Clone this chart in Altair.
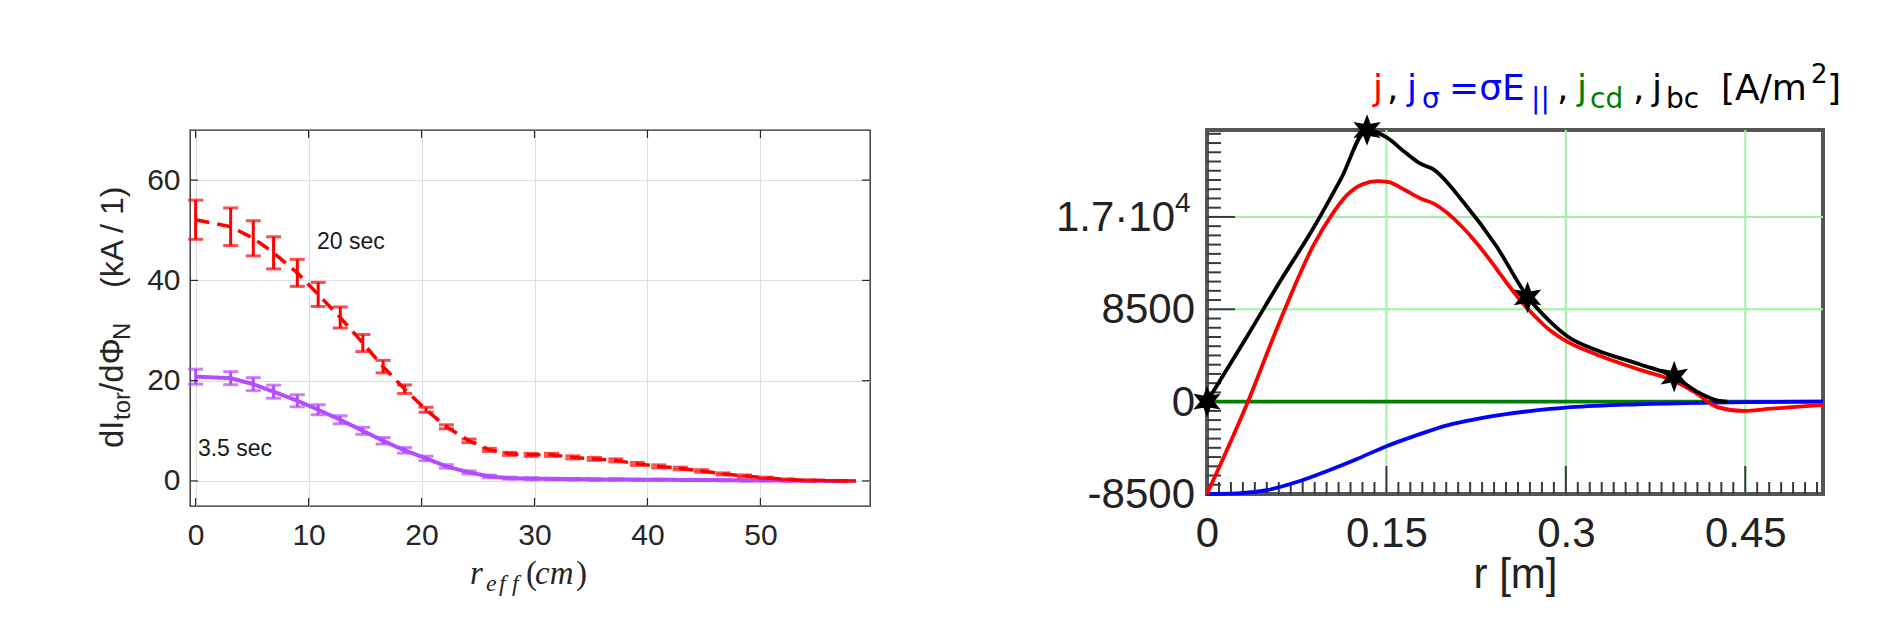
import altair as alt
import pandas as pd

# ---------------- left panel : dI_tor/dPhi_N profiles ----------------
reff = [0.0, 3.1, 5.1, 6.9, 9.0, 10.85, 12.8, 14.8, 16.6, 18.5, 20.4, 22.2, 24.2, 26.0,
        27.8, 29.7, 31.5, 33.4, 35.3, 37.2, 39.1, 41.0, 42.9, 44.8, 46.7, 48.6, 50.5,
        52.4, 54.3, 56.2, 57.8]
val_20 = [52.1, 50.7, 48.4, 45.5, 41.5, 37.2, 32.6, 27.5, 22.8, 18.3, 14.2, 10.8, 8.0, 6.2,
          5.4, 5.2, 5.2, 4.7, 4.4, 4.1, 3.4, 2.9, 2.5, 2.0, 1.4, 1.0, 0.6, 0.3, 0.1, 0.05, 0.0]
err_20 = [3.9, 3.75, 3.5, 3.2, 2.7, 2.4, 2.1, 1.7, 1.25, 0.85, 0.5, 0.4, 0.35, 0.3, 0.3, 0.3,
          0.3, 0.3, 0.3, 0.3, 0.3, 0.3, 0.25, 0.25, 0.2, 0.2, 0.15, 0.1, 0.1, 0.05, 0.05]
val_35 = [20.8, 20.5, 19.3, 17.8, 16.0, 14.2, 12.2, 10.0, 8.0, 6.1, 4.5, 2.9, 1.7, 0.9, 0.55,
          0.45, 0.4, 0.35, 0.3, 0.3, 0.25, 0.25, 0.2, 0.2, 0.15, 0.1, 0.1, 0.05, 0.05, 0.0, 0.0]
err_35 = [1.5, 1.3, 1.3, 1.3, 1.2, 1.0, 0.8, 0.7, 0.65, 0.55, 0.45, 0.35, 0.3, 0.25, 0.2, 0.2,
          0.15, 0.15, 0.15, 0.15, 0.1, 0.1, 0.1, 0.1, 0.1, 0.1, 0.1, 0.05, 0.05, 0.05, 0.05]
left_xticks = [0, 10, 20, 30, 40, 50]
left_yticks = [0, 20, 40, 60]
ann_x = [10.75, 0.2]
ann_y = [47.7, 6.4]
ann_t = ["20 sec", "3.5 sec"]

# ---------------- right panel : current density profiles ----------------
jbc_r = [0.0, 0.0335, 0.0613, 0.0891, 0.112, 0.1338, 0.1505, 0.165, 0.1784, 0.189, 0.2141,
         0.242, 0.2677, 0.2875, 0.3015, 0.3266, 0.3628, 0.3906, 0.41, 0.427, 0.435]
jbc_v = [0, 6000, 11100, 16000, 20500, 25000, 24300, 23000, 21900, 21400, 18400,
         14300, 9700, 7300, 6000, 4700, 3400, 2300, 900, 100, 0]
j_r = [0.0, 0.0335, 0.0613, 0.0891, 0.105, 0.117, 0.130, 0.1424, 0.152, 0.165, 0.1784, 0.19,
       0.2141, 0.2246, 0.2677, 0.2875, 0.3015, 0.3266, 0.3628, 0.3906, 0.4087, 0.4266, 0.449,
       0.4716, 0.495, 0.515]
j_v = [-8500, -200, 7500, 14400, 17300, 19000, 20000, 20300, 20200, 19500, 18700, 18200,
       16000, 14700, 8600, 6500, 5500, 4300, 2900, 1900, 800, -500, -850, -650, -450, -300]
js_r = [0.0, 0.025, 0.05, 0.075, 0.1, 0.125, 0.15, 0.175, 0.2, 0.225, 0.25, 0.275, 0.3,
        0.35, 0.4, 0.45, 0.515]
js_v = [-8500, -8450, -8150, -7400, -6400, -5300, -4100, -3100, -2200, -1600, -1150, -800,
        -550, -280, -130, -50, 0]
jcd_r = [0.0, 0.515]
jcd_v = [0, 0]
star_r = [0.0, 0.1338, 0.268, 0.3906]
star_v = [0, 25000, 9600, 2300]
right_xticks = [0, 0.15, 0.3, 0.45]
right_ylab_v = [8500, 0, -8500]
right_ylab_t = ["8500", "0", "-8500"]
right_grid_x = [0.15, 0.3, 0.45]
right_grid_y = [8500, 17000]
right_major_y = [-8500, 0, 8500, 17000]

# ---------------- geometry ----------------
LW, LH = 680, 376
RW, RH = 616, 364
ONE = pd.DataFrame({"k": [0]})
SANS = "Liberation Sans, Arial, sans-serif"
SERIF = "Liberation Serif, Times New Roman, serif"
WIDE = "DejaVu Sans, sans-serif"


def txt(text, x, y, size, color="#262626", font=SANS, style="normal", angle=0,
        align="left", baseline="alphabetic"):
    return alt.Chart(ONE).mark_text(text=text, font=font, fontSize=size, fontStyle=style,
                                    color=color, angle=angle, align=align,
                                    baseline=baseline).encode(x=alt.value(x), y=alt.value(y))


# ======== left panel ========
xs = alt.Scale(domain=[-0.5, 59.7], nice=False, zero=False)
ys = alt.Scale(domain=[-5, 70], nice=False, zero=False)
ax_x = alt.Axis(values=left_xticks, grid=True, gridColor="#dedede", gridWidth=1, ticks=False,
                domain=False, labelFont=SANS, labelFontSize=30, labelColor="#262626",
                labelPadding=14, title=None, labelFlush=False)
ax_y = alt.Axis(values=left_yticks, grid=True, gridColor="#dedede", gridWidth=1, ticks=False,
                domain=False, labelFont=SANS, labelFontSize=30, labelColor="#262626",
                labelPadding=10, title=None)

dl = pd.DataFrame({"x": reff * 2, "y": val_35 + val_20, "e": err_35 + err_20,
                   "s": ["3.5 sec"] * len(reff) + ["20 sec"] * len(reff)})
dl["lo"] = dl["y"] - dl["e"]
dl["hi"] = dl["y"] + dl["e"]
d35 = dl[dl.s == "3.5 sec"]
d20 = dl[dl.s == "20 sec"]
X = alt.X("x:Q", scale=xs, axis=ax_x)


def series(d, color, dash, lw):
    base = alt.Chart(d)
    line = base.mark_line(color=color, strokeWidth=lw, strokeDash=dash).encode(
        x=X, y=alt.Y("y:Q", scale=ys, axis=ax_y))
    bars = base.mark_rule(color=color, strokeWidth=3).encode(
        x=X, y=alt.Y("lo:Q", scale=ys, axis=ax_y), y2="hi:Q")
    cap_lo = base.mark_tick(color=color, orient="horizontal", size=15, thickness=3).encode(
        x=X, y=alt.Y("lo:Q", scale=ys, axis=ax_y))
    cap_hi = base.mark_tick(color=color, orient="horizontal", size=15, thickness=3).encode(
        x=X, y=alt.Y("hi:Q", scale=ys, axis=ax_y))
    return [line, bars, cap_lo, cap_hi]


xt_df = pd.DataFrame({"v": left_xticks})
yt_df = pd.DataFrame({"v": left_yticks})
lt = []
for y0, y1 in [(LH, LH - 8), (0, 8)]:
    lt.append(alt.Chart(xt_df).mark_rule(color="#262626", strokeWidth=1.2).encode(
        x=alt.X("v:Q", scale=xs, axis=ax_x), y=alt.value(y0), y2=alt.value(y1)))
for x0, x1 in [(0, 8), (LW, LW - 8)]:
    lt.append(alt.Chart(yt_df).mark_rule(color="#262626", strokeWidth=1.2).encode(
        y=alt.Y("v:Q", scale=ys, axis=ax_y), x=alt.value(x0), x2=alt.value(x1)))

ann = alt.Chart(pd.DataFrame({"x": ann_x, "y": ann_y, "t": ann_t})).mark_text(
    font=SANS, fontSize=23, color="#1a1a1a", align="left", baseline="middle").encode(
    x=X, y=alt.Y("y:Q", scale=ys, axis=ax_y), text="t:N")

anchor = alt.Chart(ONE).mark_rule(opacity=0, strokeWidth=0.1).encode(
    x=alt.value(-189), x2=alt.value(-189), y=alt.value(-129), y2=alt.value(-128))

ytitle = [
    txt("dI", -67, 318, 33, angle=270),
    txt("tor", -60, 290, 24, angle=270),
    txt("/dΦ", -67, 262, 33, angle=270),
    txt("N", -60, 210, 24, angle=270),
    txt("(kA / 1)", -67, 158, 32, angle=270),
]
xtitle = [
    txt("r", 280, 454, 33, font=SERIF, style="italic"),
    txt("e", 296, 461, 24, font=SERIF, style="italic"),
    txt("f", 309, 461, 24, font=SERIF, style="italic"),
    txt("f", 322, 461, 24, font=SERIF, style="italic"),
    txt("(", 336, 454, 33, font=SERIF),
    txt("cm", 345, 454, 33, font=SERIF, style="italic"),
    txt(")", 386, 454, 33, font=SERIF),
]

left = alt.layer(
    *series(d35, "#b44cff", [1, 0], 4),
    *series(d20, "#ff0000", [14, 8], 3.5),
    *lt, ann, anchor, *ytitle, *xtitle,
).properties(width=LW, height=LH,
             view=alt.ViewBackground(stroke="#262626", strokeWidth=1.3))

# ======== right panel ========
xr = alt.Scale(domain=[0, 0.515], nice=False, zero=False)
yr = alt.Scale(domain=[-8500, 25000], nice=False, zero=False)
ax_xr = alt.Axis(values=right_xticks, format=".2~f", grid=False, ticks=False, domain=False,
                 labelFont=SANS, labelFontSize=42, labelColor="#222222", labelPadding=19,
                 title="r [m]", titleFont=SANS, titleFontSize=42, titleFontWeight="normal",
                 titleColor="#222222", titlePadding=0, labelFlush=False)
XR = alt.X("x:Q", scale=xr, axis=ax_xr)
YR = alt.Y("y:Q", scale=yr, axis=None)


def curve(xv, yv, color, lw=3.8):
    return alt.Chart(pd.DataFrame({"x": xv, "y": yv})).mark_line(
        color=color, strokeWidth=lw, interpolate="monotone").encode(x=XR, y=YR)


grid_r = [
    alt.Chart(pd.DataFrame({"x": right_grid_x})).mark_rule(color="#a4f0a4", strokeWidth=2).encode(
        x=XR, y=alt.value(0), y2=alt.value(RH)),
    alt.Chart(pd.DataFrame({"y": right_grid_y})).mark_rule(color="#a4f0a4", strokeWidth=2).encode(
        y=YR, x=alt.value(0), x2=alt.value(RW)),
]
minor_x = [i / 100 for i in range(1, 52) if i % 15 != 0]
minor_y = [-8500 + 850 * i for i in range(1, 40) if i % 10 != 0]
ticks_r = [
    alt.Chart(pd.DataFrame({"x": minor_x})).mark_rule(color="#3a3a3a", strokeWidth=2).encode(
        x=XR, y=alt.value(RH), y2=alt.value(RH - 12)),
    alt.Chart(pd.DataFrame({"x": right_xticks[1:]})).mark_rule(color="#3a3a3a", strokeWidth=2).encode(
        x=XR, y=alt.value(RH), y2=alt.value(RH - 28)),
    alt.Chart(pd.DataFrame({"y": minor_y})).mark_rule(color="#3a3a3a", strokeWidth=2).encode(
        y=YR, x=alt.value(0), x2=alt.value(14)),
    alt.Chart(pd.DataFrame({"y": right_major_y})).mark_rule(color="#3a3a3a", strokeWidth=2).encode(
        y=YR, x=alt.value(0), x2=alt.value(28)),
]

STAR = ("M0,-1L0.225,-0.39L0.866,-0.5L0.45,0L0.866,0.5L0.225,0.39L0,1L-0.225,0.39"
        "L-0.866,0.5L-0.45,0L-0.866,-0.5L-0.225,-0.39Z")
stars = alt.Chart(pd.DataFrame({"x": star_r, "y": star_v})).mark_point(
    shape=STAR, filled=True, color="black", size=1000, opacity=1).encode(x=XR, y=YR)

ylabels = alt.Chart(pd.DataFrame({"y": right_ylab_v, "t": right_ylab_t})).mark_text(
    font=SANS, fontSize=42, color="#222222", align="right", baseline="middle", dy=1).encode(
    x=alt.value(-12), y=YR, text="t:N")
y17 = RH * (25000 - 17000) / 33500
ylab_extra = [
    txt("1.7·10", -32, y17 + 1, 42, color="#222222", align="right", baseline="middle"),
    txt("4", -32, y17 - 5, 28, color="#222222"),
]

TY, SY, UY = -30, -22, -47
rtitle = [
    txt("j", 166, TY, 36, color="#ff0000", font=WIDE),
    txt(",", 180, TY, 36, color="#000000", font=WIDE),
    txt("j", 200, TY, 36, color="#0000ff", font=WIDE),
    txt("σ", 215, SY, 28, color="#0000ff", font=WIDE),
    txt("=σE", 242, TY, 36, color="#0000ff", font=WIDE),
    txt("||", 324, SY, 28, color="#0000ff", font=WIDE),
    txt(",", 350, TY, 36, color="#000000", font=WIDE),
    txt("j", 370, TY, 36, color="#008000", font=WIDE),
    txt("cd", 383, SY, 28, color="#008000", font=WIDE),
    txt(",", 426, TY, 36, color="#000000", font=WIDE),
    txt("j", 445, TY, 36, color="#000000", font=WIDE),
    txt("bc", 459, SY, 28, color="#000000", font=WIDE),
    txt("[A/m", 514, TY, 36, color="#000000", font=WIDE),
    txt("2", 604, UY, 26, color="#000000", font=WIDE),
    txt("]", 620, TY, 36, color="#000000", font=WIDE),
]

right = alt.layer(
    *grid_r, *ticks_r,
    curve(jcd_r, jcd_v, "#008000"),
    curve(js_r, js_v, "#0000ff"),
    curve(j_r, j_v, "#ff0000"),
    curve(jbc_r, jbc_v, "#000000"),
    ylabels, *ylab_extra, stars, *rtitle,
).properties(width=RW, height=RH,
             view=alt.ViewBackground(stroke="#555555", strokeWidth=4))

chart = alt.hconcat(left, right, spacing=337, bounds="flush").properties(
    padding=0, background="white")

chart.save("out.html", embed_options={"renderer": "svg", "actions": False})
